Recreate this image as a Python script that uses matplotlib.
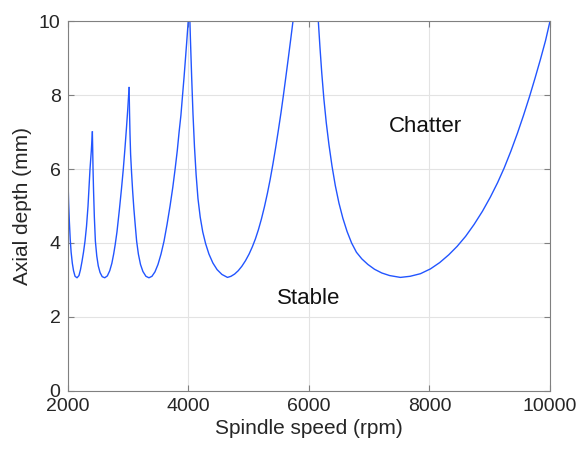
import matplotlib
matplotlib.use("Agg")
import matplotlib.pyplot as plt

plt.rcParams['font.family'] = ['Liberation Sans', 'DejaVu Sans']

# stability lobes (spindle speed rpm, axial depth mm)
lobe1_rpm = [2000, 2008, 2018, 2030, 2045, 2060, 2080, 2100, 2125, 2158, 2190, 2215, 2240,
             2265, 2290, 2315, 2340, 2373, 2395, 2412]
lobe1_depth = [6.2, 5.7, 5.1, 4.6, 4.1, 3.75, 3.45, 3.25, 3.1, 3.06, 3.12, 3.28, 3.5,
               3.75, 4.05, 4.45, 5.0, 6.0, 6.5, 7.0]

lobe2_rpm = [2412, 2418, 2423, 2432, 2445, 2462, 2485, 2510, 2540, 2575, 2617, 2660, 2700,
             2735, 2765, 2790, 2820, 2860, 2895, 2925, 2952, 2977, 2999, 3021]
lobe2_depth = [7.0, 6.5, 6.0, 5.4, 4.7, 4.05, 3.65, 3.38, 3.2, 3.09, 3.06, 3.11, 3.25,
               3.45, 3.7, 3.95, 4.3, 4.9, 5.47, 6.0, 6.55, 7.1, 7.62, 8.2]

lobe3_rpm = [3021, 3028, 3036, 3046, 3062, 3080, 3100, 3122, 3146, 3175, 3210, 3250, 3300,
             3350, 3400, 3450, 3500, 3550, 3600, 3650, 3700, 3745, 3784, 3820, 3850,
             3880, 3905, 3932, 3955, 3978, 4000, 4020]
lobe3_depth = [8.2, 7.55, 6.95, 6.4, 5.9, 5.4, 4.93, 4.5, 4.05, 3.7, 3.42, 3.23, 3.1,
               3.06, 3.1, 3.22, 3.42, 3.7, 4.05, 4.5, 5.0, 5.5, 6.0, 6.5, 7.0,
               7.45, 7.95, 8.48, 8.97, 9.47, 9.97, 10.45]

lobe4_rpm = [4020, 4038, 4058, 4080, 4105, 4132, 4163, 4200, 4242, 4290, 4345, 4410, 4480,
             4560, 4652, 4710, 4770, 4830, 4890, 4950, 5010, 5065, 5115, 5165, 5215,
             5265, 5315, 5360, 5405, 5450, 5495, 5540, 5580, 5620, 5660, 5700, 5740, 5790]
lobe4_depth = [10.5, 9.5, 8.5, 7.5, 6.6, 5.85, 5.2, 4.7, 4.3, 3.98, 3.7, 3.46, 3.28,
               3.15, 3.07, 3.1, 3.16, 3.25, 3.37, 3.52, 3.7, 3.9, 4.11, 4.36, 4.65,
               4.98, 5.35, 5.72, 6.13, 6.57, 7.04, 7.53, 8.0, 8.49, 8.99, 9.5, 10.02, 10.7]

lobe5_rpm = [6100, 6158, 6185, 6215, 6250, 6290, 6335, 6385, 6440, 6500, 6565, 6635, 6710,
             6790, 6880, 6980, 7090, 7210, 7340, 7519, 7680, 7851, 8017, 8170, 8320,
             8460, 8600, 8740, 8880, 9010, 9130, 9240, 9350, 9460, 9560, 9660, 9750,
             9840, 9925, 10000]
lobe5_depth = [10.8, 10.0, 9.3, 8.6, 7.9, 7.25, 6.65, 6.08, 5.55, 5.08, 4.67, 4.31, 4.0,
               3.75, 3.57, 3.42, 3.29, 3.19, 3.12, 3.07, 3.1, 3.17, 3.3, 3.47, 3.68,
               3.91, 4.18, 4.5, 4.86, 5.24, 5.63, 6.03, 6.48, 6.97, 7.45, 7.96, 8.45,
               8.96, 9.47, 10.0]

fig = plt.figure(figsize=(5.79, 4.55), dpi=100)
ax = fig.add_axes([0.1166, 0.1407, 0.8334, 0.8131])

for r, d in [(lobe1_rpm, lobe1_depth), (lobe2_rpm, lobe2_depth), (lobe3_rpm, lobe3_depth),
             (lobe4_rpm, lobe4_depth), (lobe5_rpm, lobe5_depth)]:
    ax.plot(r, d, color='#2255ff', linewidth=1.0)

ax.set_xlim(2000, 10000)
ax.set_ylim(0, 10)
ax.set_xticks([2000, 4000, 6000, 8000, 10000])
ax.set_yticks([0, 2, 4, 6, 8, 10])
ax.grid(True, color='#e3e3e3', linewidth=0.8)
ax.set_axisbelow(True)
for s in ax.spines.values():
    s.set_color('#808080')
    s.set_linewidth(0.8)
ax.tick_params(direction='in', top=True, right=True, length=4, color='#808080',
               labelsize=14, labelcolor='#262626', pad=5)

ax.set_xlabel('Spindle speed (rpm)', fontsize=15, color='#262626', labelpad=3)
ax.set_ylabel('Axial depth (mm)', fontsize=15, color='#262626', labelpad=5)

ax.text(7934, 7.14, 'Chatter', fontsize=16, ha='center', va='center', color='#111111')
ax.text(5996, 2.5, 'Stable', fontsize=16, ha='center', va='center', color='#111111')

fig.savefig('out.png', dpi=100)
